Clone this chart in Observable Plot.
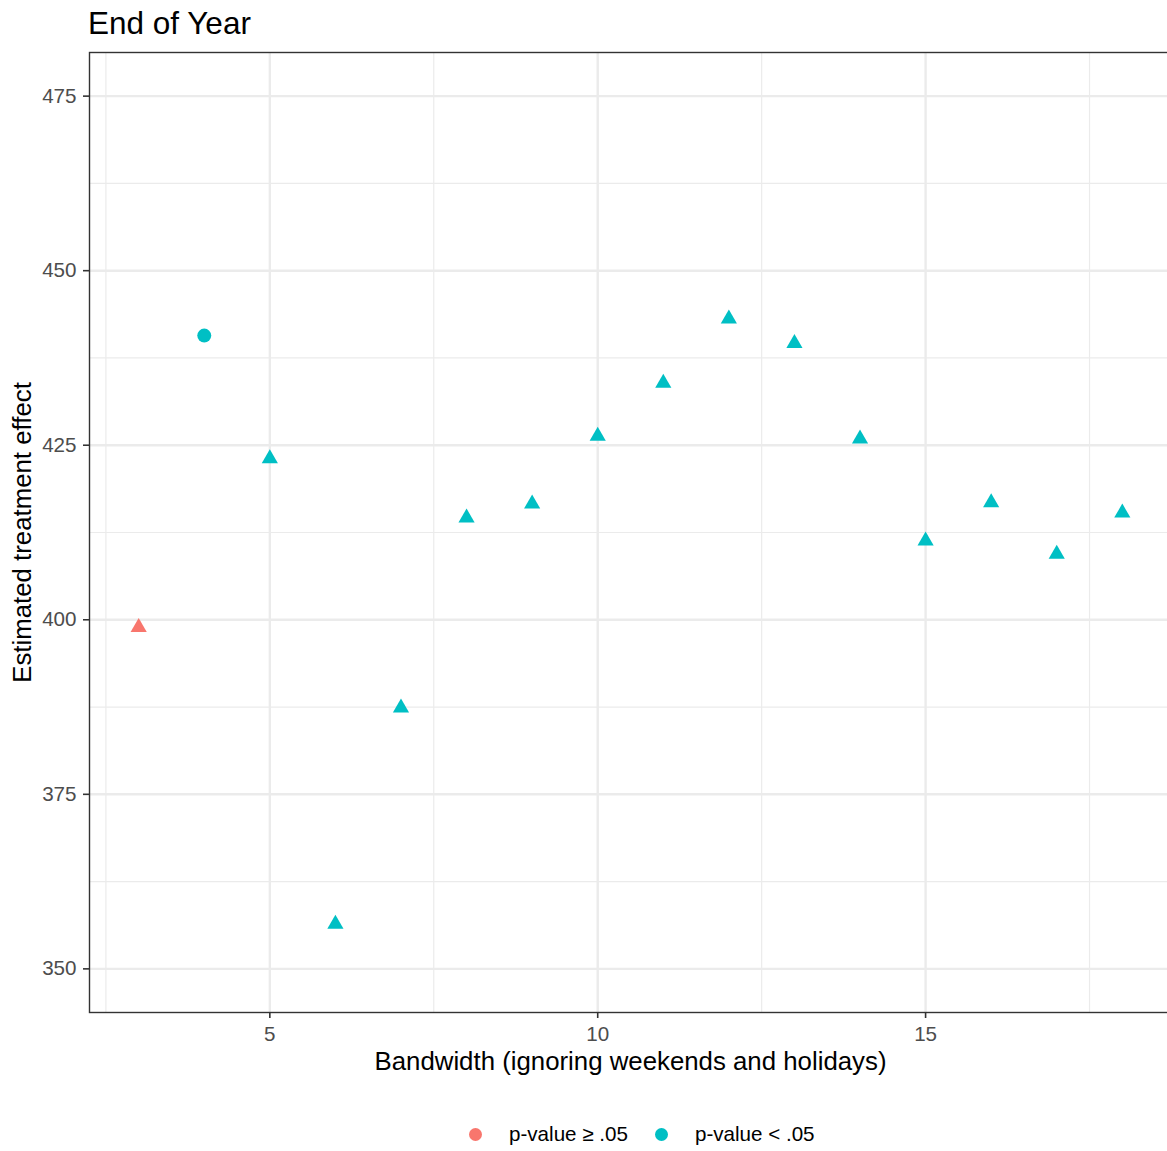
<!DOCTYPE html>
<html><head><meta charset="utf-8">
<script src="https://cdn.jsdelivr.net/npm/d3@7"></script>
<script src="https://cdn.jsdelivr.net/npm/@observablehq/plot@0.6"></script>
<style>
html,body{margin:0;padding:0;background:#fff;overflow:hidden;}
body{font-family:"Liberation Sans",Arial,Helvetica,sans-serif;width:1167px;height:1151px;}
#title{font-size:31.5px;line-height:40px;padding:3px 0 0 88px;height:39px;color:#000;white-space:nowrap;}
#chart{width:1167px;height:1036px;overflow:hidden;}
#chart svg{max-width:none !important;}
#legend{position:relative;height:73px;width:1167px;}
#legend .items{position:absolute;left:469px;top:46px;display:flex;align-items:center;height:20px;font-size:20.6px;color:#000;white-space:nowrap;}
#legend .item{display:flex;align-items:center;margin-right:27px;}
#legend .key{width:13px;height:13px;border-radius:50%;margin-right:27px;}
</style></head>
<body>
<div id="title">End of Year</div>
<div id="chart"></div>
<div id="legend"></div>
<script>
// ---- data ----
const bandwidth = [3, 4, 5, 6, 7, 8, 9, 10, 11, 12, 13, 14, 15, 16, 17, 18];
const estimate = [398.9, 440.7, 423.1, 356.4, 387.4, 414.6, 416.6, 426.3, 433.9, 443.1, 439.6, 425.9, 411.3, 416.8, 409.4, 415.3];
const significance = ["p-value ≥ .05", "p-value < .05", "p-value < .05", "p-value < .05", "p-value < .05", "p-value < .05", "p-value < .05", "p-value < .05",
                      "p-value < .05", "p-value < .05", "p-value < .05", "p-value < .05", "p-value < .05", "p-value < .05", "p-value < .05", "p-value < .05"];
const shape = ["triangle", "circle", "triangle", "triangle", "triangle", "triangle", "triangle", "triangle",
               "triangle", "triangle", "triangle", "triangle", "triangle", "triangle", "triangle", "triangle"];
const legendLabels = ["p-value ≥ .05", "p-value < .05"];
const legendColors = ["#F8766D", "#00BFC4"];
const xMajorTicks = [5, 10, 15];
const xMinorTicks = [2.5, 7.5, 12.5, 17.5];
const yMajorTicks = [350, 375, 400, 425, 450, 475];
const yMinorTicks = [362.5, 387.5, 412.5, 437.5, 462.5];
const xDomain = [2.25, 18.75];
const yDomain = [343.75, 481.25];
const titleText = "End of Year";
const xLabel = "Bandwidth (ignoring weekends and holidays)";
const yLabel = "Estimated treatment effect";

const data = bandwidth.map((b, i) => ({bandwidth: b, estimate: estimate[i], sig: significance[i], shape: shape[i]}));

document.getElementById("title").textContent = titleText;

const font = '"Liberation Sans", Arial, Helvetica, sans-serif';
const chart = Plot.plot({
  width: 1171,
  height: 1036,
  marginTop: 10,
  marginBottom: 66,
  marginLeft: 89,
  marginRight: 0,
  style: {fontFamily: font, fontSize: "20.6px", background: "white", maxWidth: "none"},
  x: {domain: xDomain, axis: null},
  y: {domain: yDomain, axis: null},
  color: {domain: legendLabels, range: legendColors},
  marks: [
    Plot.gridX(xMinorTicks, {stroke: "#EBEBEB", strokeOpacity: 1, strokeWidth: 1.2}),
    Plot.gridY(yMinorTicks, {stroke: "#EBEBEB", strokeOpacity: 1, strokeWidth: 1.2}),
    Plot.gridX(xMajorTicks, {stroke: "#EBEBEB", strokeOpacity: 1, strokeWidth: 2.4}),
    Plot.gridY(yMajorTicks, {stroke: "#EBEBEB", strokeOpacity: 1, strokeWidth: 2.4}),
    Plot.dot(data, {filter: d => d.shape === "triangle", x: "bandwidth", y: "estimate", fill: "sig", symbol: "triangle", r: 6}),
    Plot.dot(data, {filter: d => d.shape === "circle", x: "bandwidth", y: "estimate", fill: "sig", symbol: "circle", r: 7}),
    Plot.frame({stroke: "#333333", strokeWidth: 1.4}),
    Plot.axisX(xMajorTicks, {tickSize: 6, tickPadding: 8, stroke: "#333333", strokeWidth: 1.6, fill: "#4D4D4D", fontSize: 20.6, label: null}),
    Plot.axisY(yMajorTicks, {tickSize: 6, tickPadding: 7, stroke: "#333333", strokeWidth: 1.6, fill: "#4D4D4D", fontSize: 20.6, label: null}),
    Plot.text([xLabel], {frameAnchor: "bottom", text: d => d, dy: 57, lineAnchor: "bottom", textAnchor: "middle", fontSize: 25.8, fill: "#000"}),
    Plot.text([yLabel], {frameAnchor: "left", text: d => d, rotate: -90, dx: -59, lineAnchor: "bottom", textAnchor: "middle", fontSize: 25.8, fill: "#000"})
  ]
});
document.getElementById("chart").appendChild(chart);

// legend
const items = document.createElement("div");
items.className = "items";
legendLabels.forEach((lab, i) => {
  const it = document.createElement("div");
  it.className = "item";
  const k = document.createElement("span");
  k.className = "key";
  k.style.background = legendColors[i];
  const t = document.createElement("span");
  t.textContent = lab;
  it.appendChild(k); it.appendChild(t);
  items.appendChild(it);
});
document.getElementById("legend").appendChild(items);
</script>
</body></html>
